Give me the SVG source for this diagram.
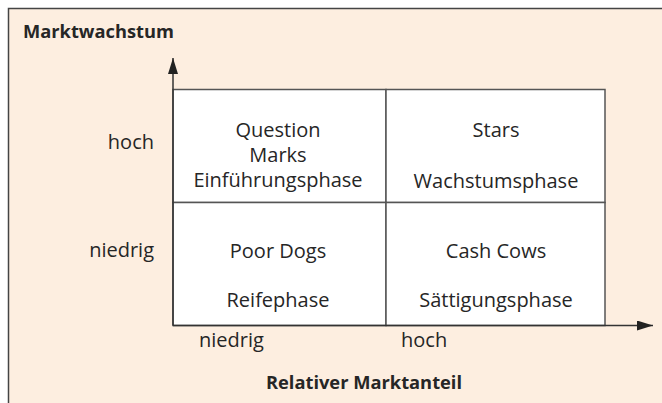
<svg xmlns="http://www.w3.org/2000/svg" width="662" height="403" viewBox="0 0 662 403">
<style>
text{font-family:"Open Sans","Noto Sans",sans-serif;font-size:20px;fill:#262626}
.b{font-weight:bold;font-size:18.3px}
.m{text-anchor:middle}
.e{text-anchor:end}
.cell{fill:#fff;stroke:#555;stroke-width:1.5}
.ax{stroke:#333;stroke-width:1.5;fill:none}
</style>
<defs>
<marker id="ah2" viewBox="0 0 16 10" refX="16" refY="5" markerWidth="16" markerHeight="10" markerUnits="userSpaceOnUse" orient="auto">
<path d="M0,0 L16,5 L0,10 Z" fill="#222"/>
</marker>
</defs>
<rect x="8.5" y="8.5" width="670" height="410" fill="#fdeee0" stroke="#444" stroke-width="1.5"/>
<text class="b" x="23" y="38">Marktwachstum</text>
<g id="q-marks"><rect class="cell" x="173" y="89.5" width="213" height="113"/>
<text class="m" x="278" y="137">Question</text><text class="m" x="278" y="162">Marks</text><text class="m" x="278" y="187">Einführungsphase</text></g>
<g id="stars"><rect class="cell" x="386" y="89.5" width="219" height="113"/>
<text class="m" x="496" y="137">Stars</text><text class="m" x="496" y="188">Wachstumsphase</text></g>
<g id="poor-dogs"><rect class="cell" x="173" y="202.5" width="213" height="123"/>
<text class="m" x="278" y="258">Poor Dogs</text><text class="m" x="278" y="307">Reifephase</text></g>
<g id="cash-cows"><rect class="cell" x="386" y="202.5" width="219" height="123"/>
<text class="m" x="496" y="258">Cash Cows</text><text class="m" x="496" y="307">Sättigungsphase</text></g>
<g id="connectors">
<line class="ax" x1="173" y1="325.5" x2="173" y2="58" marker-end="url(#ah2)"/>
<line class="ax" x1="173" y1="325.5" x2="653" y2="325.5" marker-end="url(#ah2)"/>
</g>
<text class="e" x="154" y="149">hoch</text>
<text class="e" x="154" y="257">niedrig</text>
<text x="199" y="347">niedrig</text>
<text x="401" y="347">hoch</text>
<text class="b m" x="364" y="389">Relativer Marktanteil</text>
</svg>
